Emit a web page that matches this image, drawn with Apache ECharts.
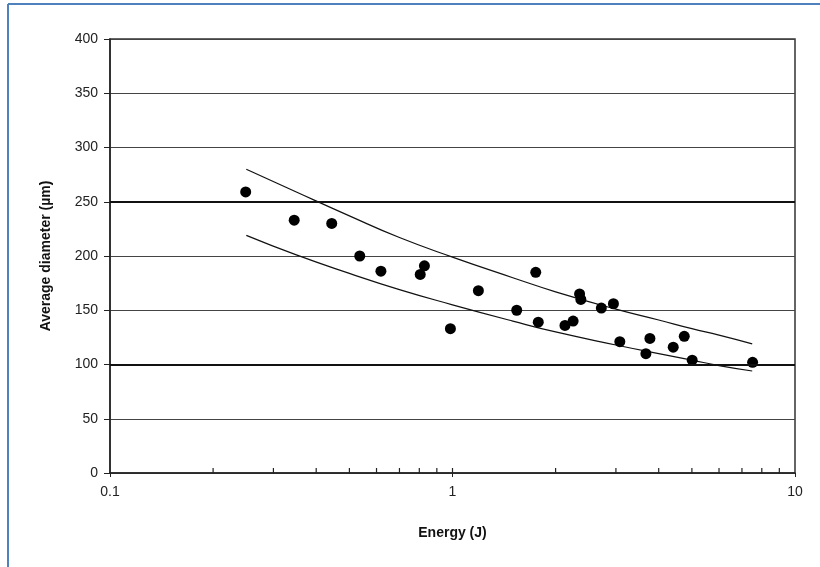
<!DOCTYPE html>
<html>
<head>
<meta charset="utf-8">
<script src="https://cdn.jsdelivr.net/npm/echarts@6/dist/echarts.min.js"></script>
<style>html,body{margin:0;padding:0;background:#fff}#c{width:820px;height:567px}</style>
</head>
<body>
<div id="c"></div>
<script>
// Measured points: energy (J) and average diameter (µm)
var energy = [0.249, 0.345, 0.444, 0.536, 0.618, 0.805, 0.828, 0.986, 1.19, 1.54, 1.75, 1.78, 2.13, 2.25, 2.35, 2.37, 2.72, 2.95, 3.08, 3.67, 3.77, 4.41, 4.75, 5.01, 7.52];
var diameter = [259, 233, 230, 200, 186, 183, 191, 133, 168, 150, 185, 139, 136, 140, 165, 160, 152, 156, 121, 110, 124, 116, 126, 104, 102];
// Bounding curves read at several energies
var curveEnergy = [0.25, 0.35, 0.5, 0.7, 1, 1.5, 2, 3, 4, 5, 6, 7.5];
var upperCurve = [280, 259, 237, 217, 199, 180, 167, 151, 141, 133, 127, 119];
var lowerCurve = [219, 201, 184, 169, 155, 140, 130, 118, 110, 104, 99, 94];
// Minor tick positions on the log x axis
var minorTicks = [0.2, 0.3, 0.4, 0.5, 0.6, 0.7, 0.8, 0.9, 1, 2, 3, 4, 5, 6, 7, 8, 9];
var xTickLabels = {0.1: '0.1', 1: '1', 10: '10'};
var yTicks = [0, 50, 100, 150, 200, 250, 300, 350, 400];
var strongLines = [100, 250];

function zip(a, b) { return a.map(function (v, i) { return [v, b[i]]; }); }

var chart = echarts.init(document.getElementById('c'));
var font = 'Liberation Sans, Arial, sans-serif';
chart.setOption({
  animation: false,
  backgroundColor: '#fff',
  graphic: [
    { type: 'line', shape: { x1: 8, y1: 4, x2: 820, y2: 4 }, style: { stroke: '#4f81bd', lineWidth: 2 } },
    { type: 'line', shape: { x1: 8, y1: 4, x2: 8, y2: 567 }, style: { stroke: '#4f81bd', lineWidth: 2 } }
  ],
  grid: { left: 110, right: 25, top: 39, bottom: 94, show: true, borderColor: '#333', borderWidth: 1.5, backgroundColor: 'transparent' },
  xAxis: {
    type: 'log', logBase: 10, min: 0.1, max: 10,
    name: 'Energy (J)', nameLocation: 'middle', nameGap: 53,
    nameTextStyle: { fontFamily: font, fontSize: 14, fontWeight: 'bold', color: '#111' },
    axisLine: { lineStyle: { color: '#222', width: 1.5 } },
    axisTick: { show: true, length: 4, lineStyle: { color: '#222' } },
    axisLabel: { fontFamily: font, fontSize: 14, color: '#222', margin: 12,
      formatter: function (v) { return xTickLabels[v] !== undefined ? xTickLabels[v] : String(v); } },
    splitLine: { show: false }
  },
  yAxis: {
    type: 'value', min: 0, max: 400, interval: 50,
    name: 'Average diameter (µm)', nameLocation: 'middle', nameGap: 57,
    nameTextStyle: { fontFamily: font, fontSize: 14, fontWeight: 'bold', color: '#111' },
    axisLine: { show: true, lineStyle: { color: '#222', width: 1.5 } },
    axisTick: { show: true, length: 6, lineStyle: { color: '#222' } },
    axisLabel: { fontFamily: font, fontSize: 14, color: '#222', margin: 12 },
    splitLine: { show: true, lineStyle: { color: '#444', width: 1.2 } }
  },
  series: [
    {
      type: 'line', data: zip(curveEnergy, upperCurve), showSymbol: false, smooth: true,
      lineStyle: { color: '#111', width: 1.2 }, z: 3,
      markLine: { silent: true, symbol: 'none', label: { show: false },
        lineStyle: { color: '#111', width: 2, type: 'solid' },
        data: strongLines.map(function (v) { return { yAxis: v }; }) }
    },
    {
      type: 'line', data: zip(curveEnergy, lowerCurve), showSymbol: false, smooth: true,
      lineStyle: { color: '#111', width: 1.2 }, z: 3
    },
    {
      type: 'scatter', data: zip(energy, diameter), symbol: 'circle', symbolSize: 11,
      itemStyle: { color: '#000', opacity: 1 }, z: 4
    },
    {
      type: 'custom', silent: true, z: 5,
      data: minorTicks.map(function (v) { return [v, 0]; }),
      renderItem: function (params, api) {
        var p = api.coord([api.value(0), 0]);
        return { type: 'line', shape: { x1: p[0], y1: p[1], x2: p[0], y2: p[1] - 5 }, style: { stroke: '#222', lineWidth: 1.2 } };
      }
    }
  ]
});
</script>
</body>
</html>
